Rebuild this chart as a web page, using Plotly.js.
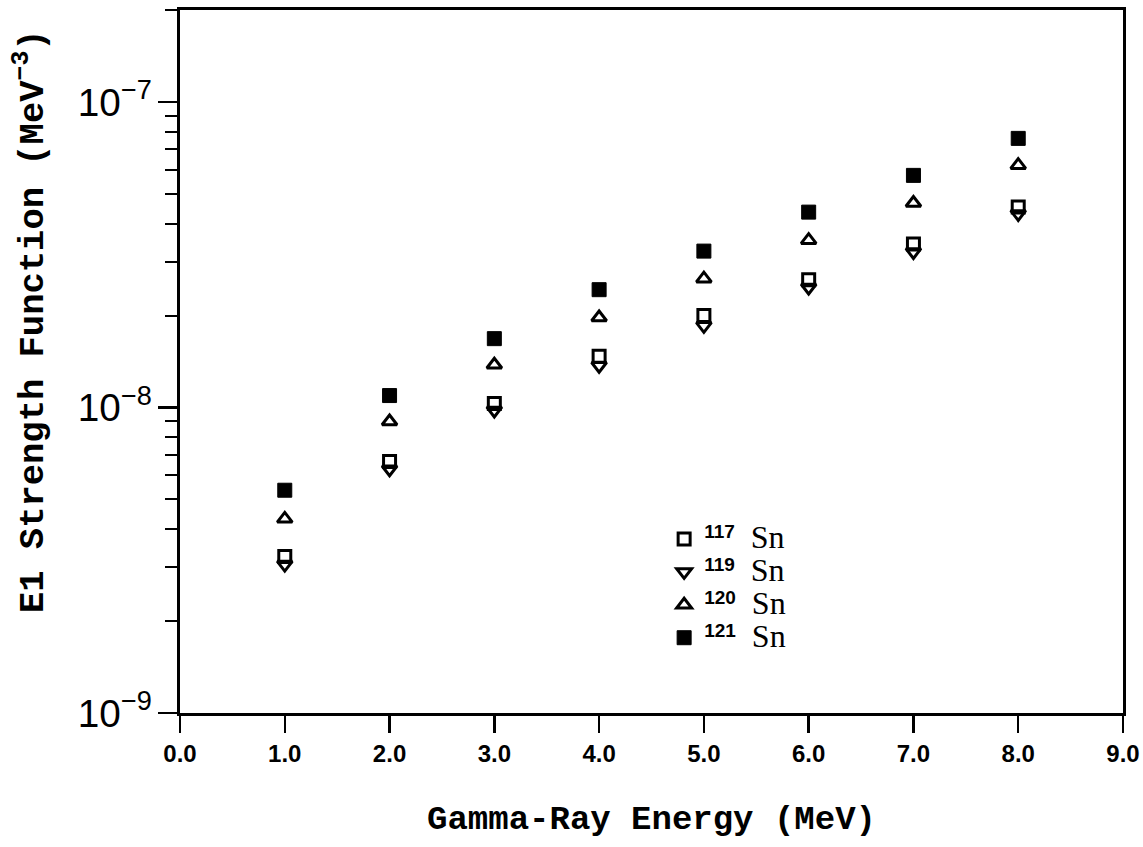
<!DOCTYPE html>
<html>
<head>
<meta charset="utf-8">
<script src="https://cdn.plot.ly/plotly-3.0.1.min.js"></script>
<style>html,body{margin:0;padding:0;background:#fff;}#chart{width:1143px;height:847px;}</style>
</head>
<body>
<div id="chart"></div>
<script>
// Gamma-ray energy (MeV)
const energies = [1.0, 2.0, 3.0, 4.0, 5.0, 6.0, 7.0, 8.0];
// E1 strength function (MeV^-3)
const sn117 = [3.25e-9, 6.66e-9, 1.03e-8, 1.47e-8, 2.00e-8, 2.62e-8, 3.43e-8, 4.53e-8];
const sn119 = [3.06e-9, 6.28e-9, 9.78e-9, 1.37e-8, 1.85e-8, 2.47e-8, 3.23e-8, 4.30e-8];
const sn120 = [4.32e-9, 9.00e-9, 1.38e-8, 1.97e-8, 2.64e-8, 3.53e-8, 4.67e-8, 6.21e-8];
const sn121 = [5.36e-9, 1.094e-8, 1.68e-8, 2.43e-8, 3.25e-8, 4.36e-8, 5.75e-8, 7.60e-8];
const massNumbers = ['117', '119', '120', '121'];
const xTitle = 'Gamma-Ray Energy (MeV)';
const yTitle = 'E1 Strength Function (MeV<sup>−3</sup>)';

function label(a) {
  return "<sup><span style='font-size:19px;font-weight:bold;font-family:Liberation Sans'>" + a +
         "</span></sup><span style='font-size:32px'>\u00a0\u00a0Sn</span>";
}

const common = {type: 'scatter', mode: 'markers', x: energies, cliponaxis: false};
const traces = [
  Object.assign({}, common, {y: sn117, name: label(massNumbers[0]),
    marker: {symbol: 'square-open', size: 12, color: '#000', line: {width: 3, color: '#000'}}}),
  Object.assign({}, common, {y: sn119, name: label(massNumbers[1]),
    marker: {symbol: 'triangle-down-open', size: 13, color: '#000', line: {width: 3, color: '#000'}}}),
  Object.assign({}, common, {y: sn120, name: label(massNumbers[2]),
    marker: {symbol: 'triangle-up-open', size: 13, color: '#000', line: {width: 3, color: '#000'}}}),
  Object.assign({}, common, {y: sn121, name: label(massNumbers[3]),
    marker: {symbol: 'square', size: 14, color: '#000', line: {width: 1, color: '#000'}}})
];

const layout = {
  width: 1143, height: 847,
  margin: {l: 180, r: 20, t: 10, b: 134},
  paper_bgcolor: '#fff', plot_bgcolor: '#fff',
  showlegend: true,
  legend: {
    x: 0.5134, y: 0.278, xanchor: 'left', yanchor: 'top',
    bgcolor: 'rgba(0,0,0,0)', borderwidth: 0,
    font: {family: 'Liberation Serif', size: 23, color: '#000'},
    traceorder: 'normal', itemclick: false
  },
  xaxis: {
    range: [0, 9], tickmode: 'linear', tick0: 0, dtick: 1, tickformat: '.1f',
    showgrid: false, zeroline: false,
    showline: true, linecolor: '#000', linewidth: 3, mirror: true,
    ticks: 'outside', ticklen: 17, tickwidth: 2.5, tickcolor: '#000',
    tickfont: {family: 'Liberation Sans', size: 24, color: '#000', weight: 'bold'},
    title: {text: xTitle, standoff: 40,
      font: {family: 'Liberation Mono', size: 34, color: '#000', weight: 'bold'}}
  },
  yaxis: {
    type: 'log', range: [-9, Math.log10(2e-7)],
    tickmode: 'linear', tick0: 0, dtick: 1, exponentformat: 'power',
    showgrid: false, zeroline: false,
    showline: true, linecolor: '#000', linewidth: 3, mirror: true,
    ticks: 'outside', ticklen: 19, tickwidth: 2.5, tickcolor: '#000',
    tickfont: {family: 'Liberation Sans', size: 31, color: '#000'},
    minor: {dtick: 'D1', ticks: 'outside', ticklen: 12, tickwidth: 2, tickcolor: '#000', showgrid: false}
  },
  annotations: [{
    text: yTitle, textangle: -90, showarrow: false,
    xref: 'paper', yref: 'paper', x: -0.159, y: 0.5576,
    xanchor: 'center', yanchor: 'middle',
    font: {family: 'Liberation Mono', size: 35.5, color: '#000', weight: 'bold'}
  }]
};

Plotly.newPlot('chart', traces, layout, {displayModeBar: false, staticPlot: true});
</script>
</body>
</html>
